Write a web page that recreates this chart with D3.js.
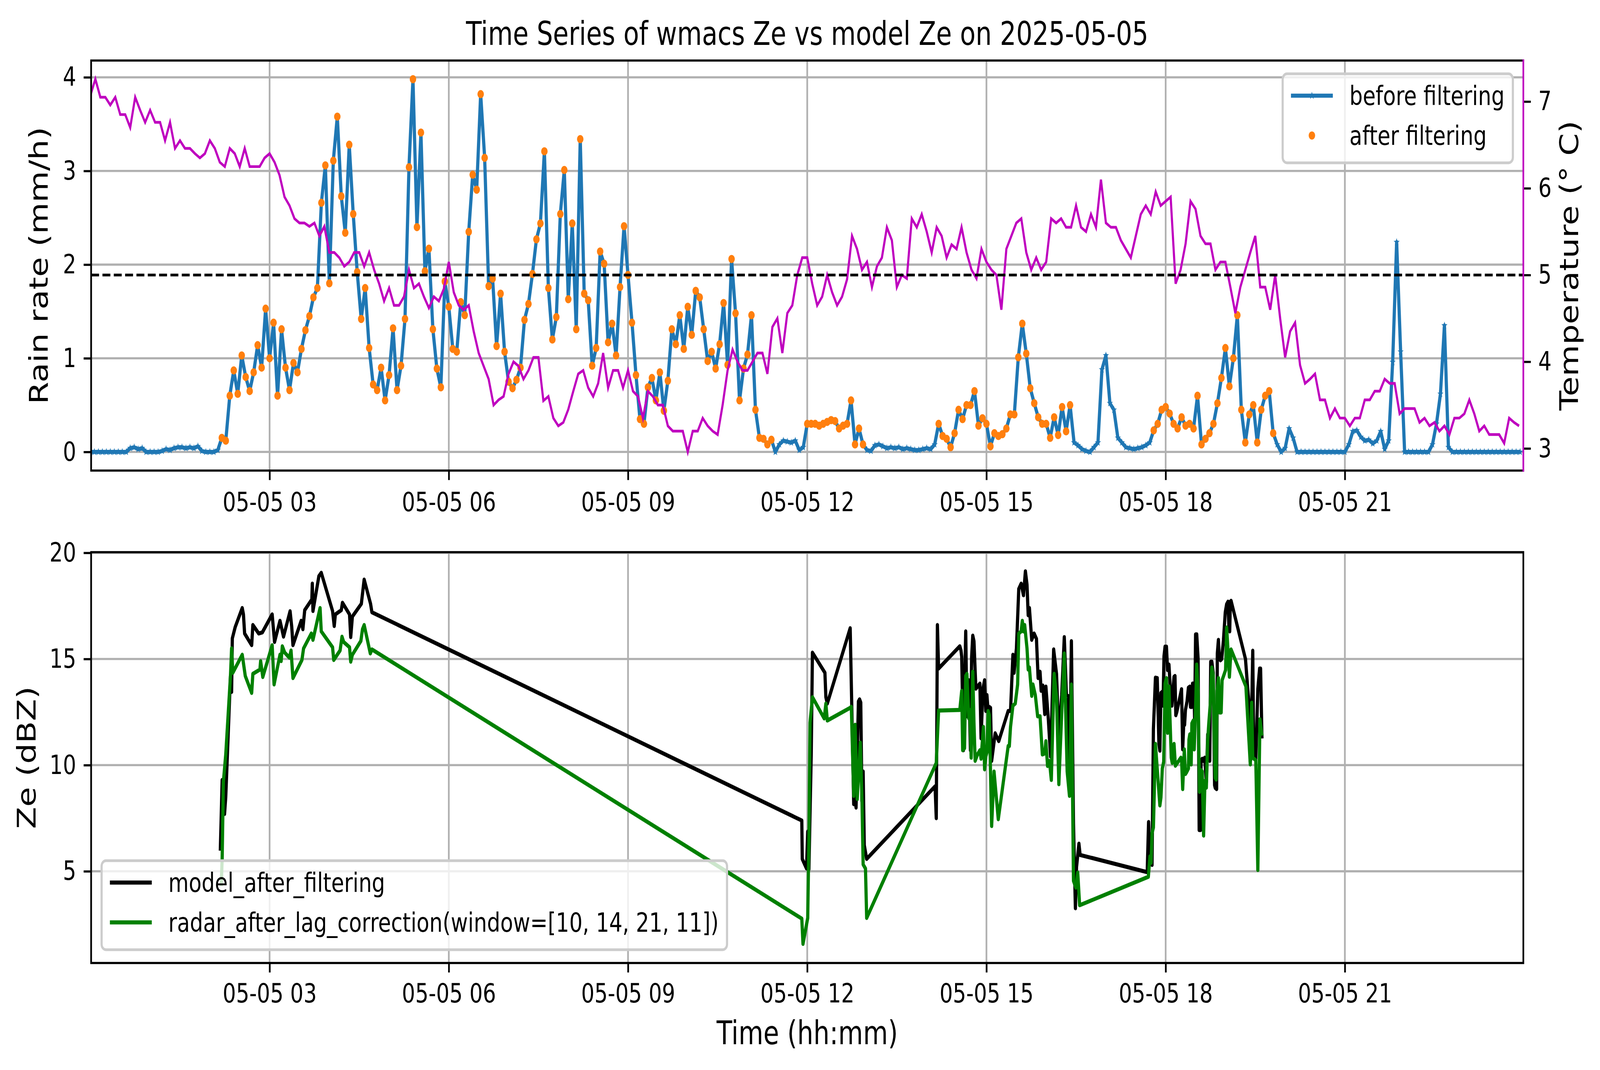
<!DOCTYPE html>
<html>
<head>
<meta charset="utf-8">
<script src="https://cdn.jsdelivr.net/npm/d3@7"></script>
<style>
  html, body { margin: 0; padding: 0; background: #fff; overflow: hidden; }
  #chart { display: block; width: 100vw; height: 100vh; }
  text { font-family: "DejaVu Sans", sans-serif; }
</style>
</head>
<body>
<svg id="chart"></svg>
<script>
// ---- data ----
// rain rate, one value every 4 minutes from 00:00
var rainStepMin = 4;
var rainRate = [
  0, 0, 0, 0, 0, 0, 0, 0, 0, 0,
  0.04, 0.05, 0.03, 0.04, 0, 0, 0, 0,
  0.01, 0.03, 0.02, 0.04, 0.05, 0.05, 0.04, 0.05, 0.04, 0.06,
  0.01, 0, 0, 0, 0.02,
  0.15, 0.12, 0.6, 0.87, 0.62, 1.03, 0.8,
  0.65, 0.85, 1.14, 0.9, 1.53, 1.0, 1.38, 0.6, 1.31, 0.9,
  0.66, 0.95, 0.85, 1.1, 1.3, 1.45, 1.65, 1.75, 2.66, 3.06,
  1.8, 3.11, 3.58, 2.73, 2.34, 3.28, 2.54, 1.92, 1.42, 1.75,
  1.11, 0.72, 0.66, 0.9, 0.55, 0.82, 1.32, 0.66, 0.92, 1.42,
  3.04, 3.98, 2.4, 3.41, 1.93, 2.17, 1.31, 0.89, 0.69, 1.82,
  1.55, 1.1, 1.07, 1.6, 1.46, 2.35, 2.96, 2.8, 3.82, 3.14,
  1.77, 1.85, 1.13, 1.69, 1.07, 0.75, 0.68, 0.77, 0.9, 1.41,
  1.58, 1.9, 2.27, 2.44, 3.21, 1.75, 1.2, 1.44, 2.54, 3.01,
  1.63, 2.44, 1.31, 3.34, 1.69, 1.62, 0.92, 1.11, 2.14, 2.01,
  1.17, 1.37, 1.03, 1.76, 2.41, 1.89, 1.38, 0.82, 0.35, 0.3,
  0.69, 0.79, 0.55, 0.85, 0.44, 0.76, 1.31, 1.15, 1.46, 1.1,
  1.55, 1.25, 1.72, 1.65, 1.31, 0.97, 1.07, 0.89, 1.15, 1.59,
  0.93, 2.06, 1.48, 0.55, 0.89, 1.04, 1.46, 0.45, 0.15, 0.14,
  0.08, 0.13, 0.0, 0.08, 0.12, 0.11, 0.1, 0.12, 0.02, 0.05,
  0.3, 0.3, 0.3, 0.28, 0.3, 0.32, 0.34, 0.33, 0.25, 0.28,
  0.3, 0.55, 0.08, 0.25, 0.08, 0.02, 0.01, 0.07, 0.08, 0.06,
  0.04, 0.05, 0.04, 0.05, 0.03, 0.04, 0.03, 0.02, 0.02, 0.03,
  0.04, 0.03, 0.08, 0.3, 0.17, 0.14, 0.05, 0.2, 0.45, 0.35,
  0.5, 0.5, 0.65, 0.28, 0.36, 0.3, 0.06, 0.2, 0.17, 0.19,
  0.25, 0.4, 0.4, 1.01, 1.37, 1.05, 0.68, 0.52, 0.37, 0.3,
  0.3, 0.15, 0.37, 0.18, 0.48, 0.22, 0.5, 0.1, 0.07, 0.03,
  0.01, 0.0, 0.05, 0.1, 0.88, 1.03, 0.52, 0.45, 0.15, 0.1,
  0.05, 0.04, 0.03, 0.04, 0.05, 0.07, 0.1, 0.23, 0.3, 0.45,
  0.48, 0.41, 0.3, 0.25, 0.37, 0.28, 0.3, 0.25, 0.6, 0.08,
  0.14, 0.2, 0.3, 0.52, 0.79, 1.11, 0.7, 1.0, 1.46, 0.45,
  0.1, 0.4, 0.5, 0.1, 0.45, 0.6, 0.65, 0.2, 0.08, 0.0,
  0.04, 0.25, 0.15, 0, 0, 0, 0, 0, 0, 0,
  0, 0, 0, 0, 0, 0, 0.08, 0.22, 0.23, 0.16,
  0.12, 0.13, 0.09, 0.12, 0.22, 0.03, 0.12, 0.96, 2.24, 1.07,
  0, 0, 0, 0, 0, 0, 0, 0.08, 0.3, 0.62,
  1.35, 0.05, 0, 0, 0, 0, 0, 0, 0, 0,
  0, 0, 0, 0, 0, 0, 0, 0, 0, 0
];

// periods (hours) whose points survive the filter
var filterWindows = [[2.19, 11.41], [11.95, 12.94], [14.18, 16.45], [17.76, 19.84]];

// temperature, one value every 5 minutes from 00:00
var tempStepMin = 5;
var temperature = [
  7.07, 7.26, 7.05, 7.05, 6.96, 7.05, 6.85, 6.85, 6.7, 7.05,
  6.9, 6.76, 6.9, 6.76, 6.76, 6.55, 6.76, 6.46, 6.55, 6.46,
  6.46, 6.4, 6.35, 6.4, 6.55, 6.46, 6.3, 6.25, 6.46, 6.4,
  6.25, 6.46, 6.25, 6.25, 6.25, 6.35, 6.4, 6.3, 6.15, 5.9,
  5.8, 5.65, 5.6, 5.6, 5.56, 5.6, 5.45, 5.56, 5.26, 5.26,
  5.2, 5.1, 5.15, 5.26, 5.26, 5.1, 5.26, 5.06, 4.9, 4.7,
  4.85, 4.65, 4.65, 4.75, 5.06, 4.85, 4.9, 4.75, 4.62, 4.75,
  4.7, 4.84,
  5.15, 4.8, 4.65, 4.6, 4.65, 4.35, 4.1, 3.95, 3.8, 3.5,
  3.56, 3.6, 3.86, 4.0, 3.95, 3.8, 3.9, 4.05, 4.05, 3.55,
  3.6, 3.35, 3.26, 3.3, 3.45, 3.66, 3.86, 3.9, 3.7, 3.6,
  3.75, 4.1, 3.7, 3.9, 3.9, 3.7, 3.9, 3.66, 3.6, 3.35,
  3.66, 3.6, 3.5, 3.5, 3.26, 3.2, 3.2, 3.2, 2.96, 3.2,
  3.2, 3.35, 3.26, 3.2, 3.16, 3.5, 3.9, 4.14, 4.0, 3.9,
  3.9, 4.0, 4.1, 4.1, 3.86, 4.4, 4.5, 4.1, 4.56, 4.65,
  5.0, 5.2,
  5.2, 4.9, 4.65, 4.75, 5.0, 4.8, 4.65, 4.75, 4.95, 5.45,
  5.3, 5.06, 5.15, 4.86, 5.1, 5.2, 5.55, 5.4, 4.86, 5.0,
  4.96, 5.65, 5.55, 5.7, 5.5, 5.26, 5.55, 5.45, 5.2, 5.35,
  5.3, 5.55, 5.26, 5.06, 4.96, 5.3, 5.15, 5.06, 5.0, 4.6,
  5.3, 5.45, 5.6, 5.65, 5.26, 5.06, 5.2, 5.06, 5.15, 5.65,
  5.6, 5.65, 5.55, 5.55, 5.8, 5.55, 5.5, 5.7, 5.55, 6.1,
  5.6, 5.55, 5.55, 5.4, 5.3, 5.2, 5.45, 5.7, 5.8, 5.7,
  5.96, 5.8,
  5.85, 5.9, 4.9, 5.06, 5.36, 5.85, 5.76, 5.45, 5.36, 5.36,
  5.06, 5.15, 5.15, 4.86, 4.56, 4.86, 5.06, 5.26, 5.45, 4.86,
  4.86, 4.6, 5.0, 4.5, 4.05, 4.35, 4.45, 3.96, 3.75, 3.8,
  3.86, 3.56, 3.56, 3.35, 3.46, 3.35, 3.35, 3.26, 3.35, 3.35,
  3.56, 3.56, 3.66, 3.66, 3.8, 3.75, 3.75, 3.4, 3.46, 3.46,
  3.46, 3.3, 3.35, 3.26, 3.3, 3.2, 3.26, 3.16, 3.35, 3.35,
  3.4, 3.56, 3.4, 3.2, 3.26, 3.16, 3.16, 3.16, 3.06, 3.35,
  3.3, 3.26
];
var tempRefLine = 5;

// model Ze after filtering (hours, dBZ)
var modelHours = [
  2.175, 2.206, 2.226, 2.246, 2.266, 2.345, 2.364, 2.376, 2.424, 2.542,
  2.562, 2.582, 2.7, 2.72, 2.818, 2.878, 3.043, 3.083, 3.174, 3.233,
  3.343, 3.371, 3.391, 3.529, 3.557, 3.588, 3.707, 3.715, 3.726, 3.825,
  3.865, 4.054, 4.082, 4.101, 4.2, 4.22, 4.338, 4.358, 4.386, 4.536,
  4.544, 4.583, 4.69, 4.713,
  11.909, 11.917, 11.988, 12.008, 12.028, 12.067, 12.087, 12.296, 12.312, 12.336,
  12.719, 12.746, 12.778, 12.797, 12.817, 12.857, 12.876, 12.896, 12.916, 12.936,
  12.955, 12.995,
  14.14, 14.16, 14.179, 14.199, 14.554, 14.574, 14.586, 14.614, 14.653, 14.673,
  14.704, 14.732, 14.752, 14.771, 14.791, 14.823, 14.89, 14.91, 14.941, 14.969,
  14.989, 15.008, 15.028, 15.048, 15.068, 15.087, 15.146, 15.206, 15.364, 15.403,
  15.443, 15.462, 15.502, 15.541, 15.581, 15.62, 15.652, 15.679, 15.699, 15.719,
  15.758, 15.798, 15.837, 15.865, 15.897, 15.916, 15.944, 15.976, 15.995, 16.035,
  16.074, 16.125, 16.173, 16.212, 16.26, 16.303, 16.339, 16.37, 16.39, 16.422,
  16.457, 16.489, 16.508, 16.548, 16.568,
  17.691, 17.714, 17.737, 17.749, 17.772, 17.795, 17.829, 17.859, 17.887, 17.903,
  17.921, 17.94, 17.956, 17.972, 17.99, 18.013, 18.032, 18.055, 18.078, 18.105,
  18.124, 18.14, 18.156, 18.17, 18.186, 18.266, 18.285, 18.301, 18.317, 18.331,
  18.358, 18.381, 18.404, 18.416, 18.439, 18.45, 18.473, 18.485, 18.501, 18.52,
  18.543, 18.561, 18.584, 18.593, 18.612, 18.63, 18.653, 18.681, 18.704, 18.727,
  18.738, 18.754, 18.773, 18.796, 18.819, 18.83, 18.853, 18.865, 18.883, 18.899,
  18.918, 18.938, 18.968, 18.998, 19.021, 19.044, 19.06, 19.072, 19.083, 19.095,
  19.336, 19.371, 19.394, 19.417, 19.428, 19.44, 19.458, 19.474, 19.509, 19.543,
  19.573, 19.589, 19.612
];
var modelZe = [
  5.97, 9.3, 9.3, 7.7, 8.5, 14.2, 13.45, 15.97, 16.5, 17.4,
  17.1, 16.2, 15.65, 16.6, 16.2, 16.25, 17.1, 15.8, 16.8, 16.05,
  17.25, 16.5, 15.65, 16.8, 16.4, 17.3, 17.8, 18.55, 17.26, 18.9,
  19.06, 17.26, 16.55, 17.1, 17.3, 17.65, 17.1, 16.03, 17.0, 17.6,
  17.8, 18.74, 17.6, 17.2,
  7.39, 5.58, 5.13, 6.87, 5.1, 10.5, 15.3, 14.35, 13.2, 12.9,
  16.45, 12.7, 8.16, 8.7, 8.0, 13.0, 13.1, 12.95, 8.3, 9.7,
  6.23, 5.58,
  9.0, 7.5, 16.6, 14.55, 15.6, 15.4, 15.1, 10.7, 16.3, 12.3,
  14.0, 10.7, 15.1, 16.1, 15.84, 13.6, 13.84, 11.26, 13.6, 14.0,
  12.55, 13.3, 12.55, 12.74, 12.7, 10.2, 11.5, 11.13, 12.55, 12.55,
  15.2, 14.35, 15.5, 18.3, 18.55, 18.0, 19.13, 18.5, 17.06, 17.4,
  15.9, 16.2, 15.95, 14.1, 14.4, 13.5, 13.75, 12.4, 13.7, 12.2,
  10.4, 15.45, 14.3, 11.3, 13.3, 16.03, 13.3, 13.25, 8.9, 15.84,
  7.26, 3.26, 5.2, 6.3, 5.77,
  4.96, 7.32, 5.7, 6.1, 5.3, 11.7, 14.12, 14.1, 11.0, 10.68,
  13.4, 13.45, 12.8, 15.13, 15.58, 15.58, 14.48, 14.74, 13.58, 12.8,
  13.58, 14.16, 14.2, 12.35, 12.5, 13.58, 10.74, 11.84, 11.9, 12.6,
  13.0, 13.65, 13.7, 12.74, 12.74, 13.84, 13.84, 12.03, 16.16, 16.16,
  15.0, 6.94, 6.94, 10.23, 10.3, 10.2, 10.35, 9.2, 11.45, 10.3,
  10.2, 14.87, 14.87, 14.35, 9.06, 8.93, 8.87, 15.26, 15.9, 15.0,
  14.94, 15.0, 15.9, 17.2, 17.58, 17.7, 16.35, 16.3, 17.7, 17.74,
  15.0, 13.71, 12.94, 10.16, 10.35, 12.55, 15.39, 10.48, 10.29, 13.58,
  14.55, 14.55, 11.26
];

// radar Ze after lag correction (hours, dBZ)
var radarHours = [
  2.19, 2.206, 2.226, 2.266, 2.345, 2.364, 2.384, 2.542, 2.593, 2.7,
  2.72, 2.838, 2.85, 2.886, 3.043, 3.075, 3.174, 3.193, 3.213, 3.253,
  3.332, 3.359, 3.391, 3.541, 3.569, 3.699, 3.726, 3.845, 3.865, 4.054,
  4.074, 4.18, 4.212, 4.24, 4.338, 4.358, 4.386, 4.528, 4.555, 4.583,
  4.686, 4.713,
  11.909, 11.929, 12.008, 12.02, 12.028, 12.047, 12.087, 12.284, 12.312, 12.336,
  12.719, 12.738, 12.778, 12.801, 12.837, 12.888, 12.916, 12.936, 12.975, 12.995,
  14.16, 14.199, 14.554, 14.586, 14.602, 14.633, 14.653, 14.673, 14.704, 14.72,
  14.744, 14.771, 14.791, 14.811, 14.85, 14.89, 14.91, 14.949, 14.969, 14.989,
  15.008, 15.028, 15.048, 15.087, 15.127, 15.198, 15.364, 15.383, 15.403, 15.443,
  15.482, 15.522, 15.541, 15.581, 15.6, 15.62, 15.64, 15.679, 15.699, 15.719,
  15.758, 15.778, 15.818, 15.857, 15.897, 15.936, 15.976, 15.995, 16.023, 16.054,
  16.086, 16.133, 16.173, 16.212, 16.252, 16.303, 16.351, 16.39, 16.422, 16.457,
  16.497, 16.528, 16.56,
  17.71, 17.737, 17.756, 17.772, 17.795, 17.829, 17.852, 17.903, 17.921, 17.944,
  17.967, 17.99, 18.013, 18.032, 18.055, 18.094, 18.11, 18.14, 18.163, 18.255,
  18.266, 18.285, 18.312, 18.331, 18.347, 18.381, 18.39, 18.404, 18.427, 18.439,
  18.462, 18.478, 18.497, 18.52, 18.543, 18.566, 18.593, 18.612, 18.635, 18.658,
  18.681, 18.704, 18.722, 18.745, 18.773, 18.796, 18.814, 18.83, 18.846, 18.86,
  18.883, 18.906, 18.929, 18.945, 19.003, 19.021, 19.044, 19.067, 19.095, 19.343,
  19.417, 19.44, 19.458, 19.509, 19.543, 19.578, 19.612
];
var radarZe = [
  4.3, 5.6, 9.2, 10.5, 14.2, 15.5, 14.35, 15.2, 14.2, 13.4,
  14.3, 14.5, 14.9, 14.15, 15.65, 13.8, 15.2, 14.9, 15.6, 15.3,
  15.06, 15.4, 14.1, 14.95, 15.5, 16.2, 15.9, 17.4, 16.3, 15.55,
  14.95, 15.4, 16.05, 15.8, 15.55, 14.87, 15.2, 15.85, 16.4, 16.6,
  15.26, 15.45,
  2.77, 1.58, 2.8, 5.06, 6.35, 12.0, 13.2, 12.2, 12.9, 12.1,
  12.7, 12.75, 8.55, 11.9, 8.4, 11.06, 8.4, 5.32, 5.13, 2.8,
  10.1, 12.57, 12.6, 13.5, 10.7, 10.8, 14.2, 14.3, 12.2, 12.6,
  10.35, 14.4, 12.0, 10.2, 10.5, 10.7, 10.3, 11.8, 9.8, 10.4,
  10.6, 12.55, 12.35, 7.13, 9.7, 7.45, 10.9, 10.9, 11.8, 12.8,
  12.9, 13.8, 16.2, 16.3, 16.8, 16.3, 16.6, 15.5, 14.5, 14.6,
  13.26, 13.8, 13.3, 12.3, 12.3, 10.5, 10.55, 11.13, 9.96, 10.2,
  9.3, 14.3, 13.2, 9.1, 11.9, 15.26, 9.7, 8.55, 13.8, 4.55,
  4.23, 4.94, 3.4,
  4.74, 5.7, 5.4, 6.8, 7.06, 11.0, 10.1, 8.1, 8.48, 9.84,
  10.16, 13.84, 14.1, 11.52, 13.71, 10.35, 10.1, 11.0, 9.97, 10.35,
  10.3, 8.87, 10.74, 9.58, 9.65, 9.84, 11.2, 11.45, 10.03, 11.97,
  12.1, 10.74, 12.23, 14.74, 13.45, 8.74, 9.77, 9.7, 6.68, 9.26,
  8.94, 11.2, 11.97, 12.8, 14.6, 14.23, 11.0, 9.4, 9.32, 13.5,
  14.1, 12.48, 12.48, 14.0, 14.48, 16.48, 15.39, 14.16, 15.45, 13.71,
  10.03, 12.94, 10.35, 10.23, 5.06, 12.16, 11.39
];

var timeTicks = [3, 6, 9, 12, 15, 18, 21];
var rainTicks = [0, 1, 2, 3, 4];
var tempTicks = [3, 4, 5, 6, 7];
var zeTicks = [5, 10, 15, 20];

// ---- layout (pixels of the 5197 x 2740 figure) ----
var W = 5197, H = 2740;
var pt = 6.944;                       // pixels per point
var fsTick = 68, fsLabel = 83, fsLegend = 68;
var top1 = { left: 296, right: 4948, top: 155, bottom: 1205 };
var bot1 = { left: 296, right: 4948, top: 1414, bottom: 2466 };

// the figure is drawn in its own 5197 x 2740 units and fills the window
var svg = d3.select("#chart")
  .attr("viewBox", "0 0 " + W + " " + H)
  .attr("preserveAspectRatio", "none");
svg.append("rect").attr("width", W).attr("height", H).attr("fill", "#fff");

var day = new Date(2025, 4, 5);
function at(h) { return new Date(day.getTime() + h * 3600e3); }
function inFilter(h) {
  return filterWindows.some(function(w) { return h >= w[0] && h <= w[1]; });
}

var rainPts = rainRate.map(function(v, i) { return { h: i * rainStepMin / 60, v: v }; });
var tempPts = temperature.map(function(v, i) { return { h: i * tempStepMin / 60, v: v }; });
var modelPts = modelHours.map(function(h, i) { return { h: h, v: modelZe[i] }; });
var radarPts = radarHours.map(function(h, i) { return { h: h, v: radarZe[i] }; });

var x = d3.scaleTime()
  .domain([at(0.0125), at(23.9875)])
  .range([top1.left, top1.right]);
var yRain = d3.scaleLinear().domain([-0.199, 4.179]).range([top1.bottom, top1.top]);
var yTemp = d3.scaleLinear().domain([2.745, 7.473]).range([top1.bottom, top1.top]);
var yZe = d3.scaleLinear().domain([0.68, 20.03]).range([bot1.bottom, bot1.top]);

var fmt = d3.timeFormat("%m-%d %H");

// clip paths for both plot areas
var defs = svg.append("defs");
[["clipTop", top1], ["clipBot", bot1]].forEach(function(c) {
  defs.append("clipPath").attr("id", c[0]).append("rect")
    .attr("x", c[1].left).attr("y", c[1].top)
    .attr("width", c[1].right - c[1].left).attr("height", c[1].bottom - c[1].top);
});

function styleAxis(g) {
  g.select(".domain").remove();
  g.attr("font-family", null).attr("font-size", null);
  g.selectAll(".tick line").attr("stroke", "#000").attr("stroke-width", 0.8 * pt);
  g.selectAll(".tick text").attr("fill", "#000").style("font-size", fsTick + "px");
}

function grid(box, yScale, yTicks) {
  var g = svg.append("g").attr("stroke", "#b0b0b0").attr("stroke-width", 0.8 * pt);
  timeTicks.forEach(function(h) {
    g.append("line").attr("x1", x(at(h))).attr("x2", x(at(h)))
      .attr("y1", box.top).attr("y2", box.bottom);
  });
  yTicks.forEach(function(v) {
    g.append("line").attr("x1", box.left).attr("x2", box.right)
      .attr("y1", yScale(v)).attr("y2", yScale(v));
  });
}

function legend(entries, box) {
  var g = svg.append("g");
  var frame = g.append("rect")
    .attr("rx", 14).attr("ry", 14)
    .attr("fill", "#fff").attr("fill-opacity", 0.8)
    .attr("stroke", "#cccccc").attr("stroke-width", 1.0 * pt);
  var maxLen = 0;
  entries.forEach(function(e, i) {
    var cy = box.y + 56 + i * 102;
    e.draw(g, box.x + 27, box.x + 27 + 136, cy);
    var t = g.append("text")
      .attr("x", box.x + 217).attr("y", cy).attr("dy", "0.36em")
      .style("font-size", fsLegend + "px")
      .text(e.label);
    maxLen = Math.max(maxLen, t.node().getComputedTextLength());
  });
  var w = 217 + maxLen + 27;
  if (box.alignRight) {
    // shift everything so the frame ends at box.x
    g.attr("transform", "translate(" + (-w) + ",0)");
  }
  frame.attr("x", box.x).attr("y", box.y).attr("width", w).attr("height", 228);
}

var star = d3.symbol().type(d3.symbolStar).size(120);

// ---- top panel: rain rate and temperature ----
grid(top1, yRain, rainTicks);

var topData = svg.append("g").attr("clip-path", "url(#clipTop)");

var rainLine = d3.line()
  .x(function(d) { return x(at(d.h)); })
  .y(function(d) { return yRain(d.v); });

topData.append("path")
  .datum(rainPts)
  .attr("fill", "none")
  .attr("stroke", "#1f77b4")
  .attr("stroke-width", 1.5 * pt)
  .attr("stroke-linejoin", "round")
  .attr("d", rainLine);

topData.append("g").selectAll("path")
  .data(rainPts)
  .enter().append("path")
  .attr("d", star)
  .attr("fill", "#1f77b4")
  .attr("transform", function(d) { return "translate(" + x(at(d.h)) + "," + yRain(d.v) + ")"; });

topData.append("g").selectAll("circle")
  .data(rainPts.filter(function(d) { return inFilter(d.h); }))
  .enter().append("circle")
  .attr("cx", function(d) { return x(at(d.h)); })
  .attr("cy", function(d) { return yRain(d.v); })
  .attr("r", 10.5)
  .attr("fill", "#ff7f0e");

legend([
  { label: "before filtering", draw: function(g, x0, x1, cy) {
      g.append("line").attr("x1", x0).attr("x2", x1).attr("y1", cy).attr("y2", cy)
        .attr("stroke", "#1f77b4").attr("stroke-width", 1.5 * pt);
      g.append("path").attr("d", star).attr("fill", "#1f77b4")
        .attr("transform", "translate(" + ((x0 + x1) / 2) + "," + cy + ")");
    } },
  { label: "after filtering", draw: function(g, x0, x1, cy) {
      g.append("circle").attr("cx", (x0 + x1) / 2).attr("cy", cy).attr("r", 10.5)
        .attr("fill", "#ff7f0e");
    } }
], { x: top1.right - 34, y: top1.top + 34, alignRight: true });

// temperature on the twin axis
var tempLine = d3.line()
  .x(function(d) { return x(at(d.h)); })
  .y(function(d) { return yTemp(d.v); });

topData.append("path")
  .datum(tempPts)
  .attr("fill", "none")
  .attr("stroke", "#bf00bf")
  .attr("stroke-width", 1.0 * pt)
  .attr("d", tempLine);

svg.append("line")
  .attr("x1", top1.left).attr("x2", top1.right)
  .attr("y1", yTemp(tempRefLine)).attr("y2", yTemp(tempRefLine))
  .attr("stroke", "#000")
  .attr("stroke-width", 1.0 * pt)
  .attr("stroke-dasharray", (3.7 * pt) + "," + (1.6 * pt));

// axes of the top panel
svg.append("g")
  .attr("transform", "translate(0," + top1.bottom + ")")
  .call(d3.axisBottom(x).tickValues(timeTicks.map(at)).tickFormat(fmt)
    .tickSize(3.5 * pt).tickPadding(31))
  .call(styleAxis);

svg.append("g")
  .attr("transform", "translate(" + top1.left + ",0)")
  .call(d3.axisLeft(yRain).tickValues(rainTicks).tickFormat(d3.format("d"))
    .tickSize(3.5 * pt).tickPadding(3.5 * pt))
  .call(styleAxis);

svg.append("g")
  .attr("transform", "translate(" + top1.right + ",0)")
  .call(d3.axisRight(yTemp).tickValues(tempTicks).tickFormat(d3.format("d"))
    .tickSize(3.5 * pt).tickPadding(3.5 * pt))
  .call(styleAxis);

// spines: the right one takes the temperature colour
var sp = svg.append("g").attr("fill", "none").attr("stroke-width", 0.8 * pt).attr("stroke-linecap", "square");
sp.append("path").attr("stroke", "#000")
  .attr("d", "M" + top1.right + "," + top1.top + "H" + top1.left + "V" + top1.bottom + "H" + top1.right);
sp.append("path").attr("stroke", "#bf00bf")
  .attr("d", "M" + top1.right + "," + top1.top + "V" + top1.bottom);

// ---- bottom panel: Ze ----
grid(bot1, yZe, zeTicks);

var botData = svg.append("g").attr("clip-path", "url(#clipBot)");

var zeLine = d3.line()
  .x(function(d) { return x(at(d.h)); })
  .y(function(d) { return yZe(d.v); });

botData.append("path")
  .datum(modelPts)
  .attr("fill", "none")
  .attr("stroke", "#000")
  .attr("stroke-width", 1.5 * pt)
  .attr("stroke-linejoin", "round")
  .attr("d", zeLine);

botData.append("path")
  .datum(radarPts)
  .attr("fill", "none")
  .attr("stroke", "#008000")
  .attr("stroke-width", 1.5 * pt)
  .attr("stroke-linejoin", "round")
  .attr("d", zeLine);

legend([
  { label: "model_after_filtering", draw: function(g, x0, x1, cy) {
      g.append("line").attr("x1", x0).attr("x2", x1).attr("y1", cy).attr("y2", cy)
        .attr("stroke", "#000").attr("stroke-width", 1.5 * pt);
    } },
  { label: "radar_after_lag_correction(window=[10, 14, 21, 11])", draw: function(g, x0, x1, cy) {
      g.append("line").attr("x1", x0).attr("x2", x1).attr("y1", cy).attr("y2", cy)
        .attr("stroke", "#008000").attr("stroke-width", 1.5 * pt);
    } }
], { x: bot1.left + 34, y: bot1.bottom - 34 - 228 });

svg.append("g")
  .attr("transform", "translate(0," + bot1.bottom + ")")
  .call(d3.axisBottom(x).tickValues(timeTicks.map(at)).tickFormat(fmt)
    .tickSize(3.5 * pt).tickPadding(28))
  .call(styleAxis);

svg.append("g")
  .attr("transform", "translate(" + bot1.left + ",0)")
  .call(d3.axisLeft(yZe).tickValues(zeTicks).tickFormat(d3.format("d"))
    .tickSize(3.5 * pt).tickPadding(3.5 * pt))
  .call(styleAxis);

svg.append("rect")
  .attr("x", bot1.left).attr("y", bot1.top)
  .attr("width", bot1.right - bot1.left).attr("height", bot1.bottom - bot1.top)
  .attr("fill", "none").attr("stroke", "#000").attr("stroke-width", 0.8 * pt);

// ---- titles and labels ----
svg.append("text")
  .attr("x", (top1.left + top1.right) / 2).attr("y", 115)
  .attr("text-anchor", "middle")
  .style("font-size", fsLabel + "px")
  .text("Time Series of wmacs Ze vs model Ze on 2025-05-05");

function yLabel(xPos, yPos, txt) {
  svg.append("text")
    .attr("transform", "translate(" + xPos + "," + yPos + ") rotate(-90)")
    .attr("text-anchor", "middle")
    .style("font-size", fsLabel + "px")
    .text(txt);
}
yLabel(155, (top1.top + top1.bottom) / 2, "Rain rate (mm/h)");
yLabel(5126, (top1.top + top1.bottom) / 2, "Temperature (\u00b0 C)");
yLabel(115, (bot1.top + bot1.bottom) / 2, "Ze (dBZ)");

svg.append("text")
  .attr("x", (bot1.left + bot1.right) / 2).attr("y", 2674)
  .attr("text-anchor", "middle")
  .style("font-size", fsLabel + "px")
  .text("Time (hh:mm)");
</script>
</body>
</html>
